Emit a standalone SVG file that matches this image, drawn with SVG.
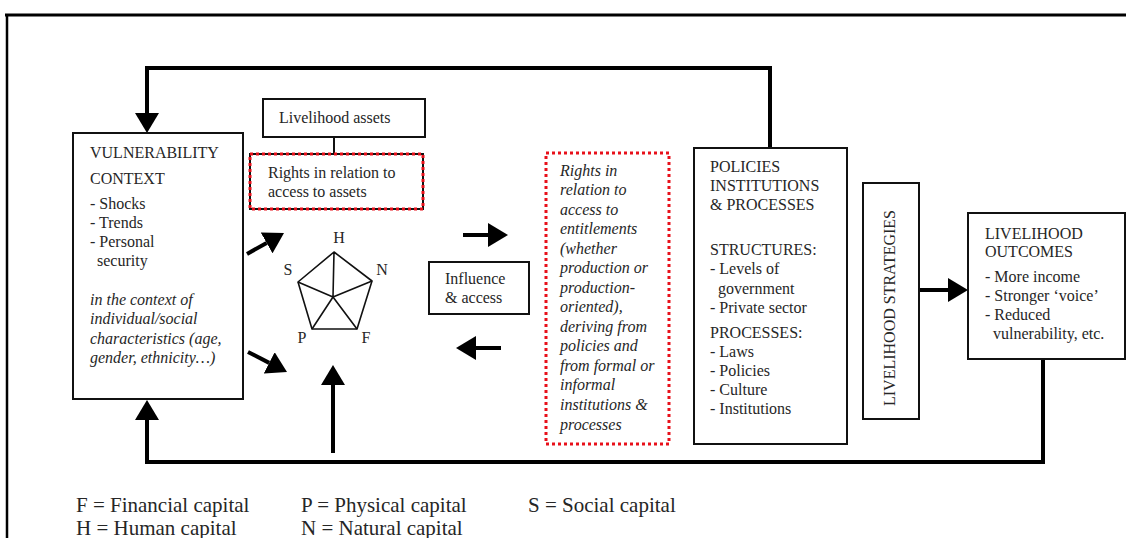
<svg xmlns="http://www.w3.org/2000/svg" width="1126" height="538" viewBox="0 0 1126 538">
  <style>
    text { font-family: 'Liberation Serif', 'Times New Roman', serif; font-size: 16px; fill: #262626; }
    .it { font-style: italic; }
    .leg { font-size: 21px; }
    .box { fill: #fff; stroke: #111; stroke-width: 2; }
    .red { fill: none; stroke: #e8101a; stroke-width: 3; stroke-dasharray: 3 3; }
    .link { fill: none; stroke: #000; stroke-width: 4; }
    .thin { fill: none; stroke: #111; stroke-width: 2; }
    .pent { fill: none; stroke: #111; stroke-width: 1.6; stroke-linejoin: round; }
  </style>
  <defs>
    <marker id="ah" markerUnits="userSpaceOnUse" markerWidth="20" markerHeight="24" viewBox="0 0 20 24" refX="0" refY="12" orient="auto">
      <path d="M0,0 L20,12 L0,24 z" fill="#000"/>
    </marker>
  </defs>

  <rect width="1126" height="538" fill="#fff"/>

  <!-- page frame -->
  <g id="frame">
    <line x1="5" y1="15" x2="1126" y2="15" stroke="#000" stroke-width="3"/>
    <line x1="7" y1="14" x2="7" y2="538" stroke="#000" stroke-width="2.5"/>
  </g>

  <!-- connectors -->
  <g id="connectors">
    <path class="link" d="M770,148 V68 H147 V113" marker-end="url(#ah)"/>
    <path class="link" d="M1043,359 V462 H147 V420" marker-end="url(#ah)"/>
    <line class="link" x1="333" y1="453" x2="333" y2="385" marker-end="url(#ah)"/>
    <line class="link" stroke-width="5" x1="247" y1="254" x2="266.6" y2="242.9" marker-end="url(#ah)"/>
    <line class="link" stroke-width="5" x1="248" y1="352" x2="269.2" y2="362.9" marker-end="url(#ah)"/>
    <line class="link" stroke-width="5" x1="463" y1="235" x2="488" y2="235" marker-end="url(#ah)"/>
    <line class="link" stroke-width="5" x1="501" y1="348" x2="476" y2="348" marker-end="url(#ah)"/>
    <line class="link" stroke-width="5" x1="919" y1="290" x2="948" y2="290" marker-end="url(#ah)"/>
    <line class="thin" x1="334" y1="137" x2="334" y2="154"/>
  </g>

  <!-- vulnerability context -->
  <g id="vulnerability">
    <rect class="box" x="73" y="133" width="170" height="266"/>
    <text x="90" y="158">VULNERABILITY</text>
    <text x="90" y="184">CONTEXT</text>
    <text x="90" y="209">- Shocks</text>
    <text x="90" y="228">- Trends</text>
    <text x="90" y="247">- Personal</text>
    <text x="97" y="266">security</text>
    <text class="it" x="90" y="305">in the context of</text>
    <text class="it" x="90" y="324">individual/social</text>
    <text class="it" x="90" y="344">characteristics (age,</text>
    <text class="it" x="90" y="363">gender, ethnicity…)</text>
  </g>

  <!-- livelihood assets header -->
  <g id="assets">
    <rect class="box" x="263" y="99" width="162" height="38"/>
    <text x="279" y="123">Livelihood assets</text>
  </g>

  <!-- rights to assets -->
  <g id="rights-assets">
    <rect class="box" x="250" y="154" width="173" height="55"/>
    <rect class="red" x="250" y="154" width="173" height="55"/>
    <text x="268" y="178">Rights in relation to</text>
    <text x="268" y="197">access to assets</text>
  </g>

  <!-- asset pentagon -->
  <g id="pentagon">
    <polygon class="pent" points="334,252 372,281 357,329 312,329 298,282"/>
    <path class="pent" d="M334,252 L333,297 M372,281 L333,297 M357,329 L333,297 M312,329 L333,297 M298,282 L333,297"/>
    <text x="339" y="243" text-anchor="middle">H</text>
    <text x="382" y="275" text-anchor="middle">N</text>
    <text x="366" y="343" text-anchor="middle">F</text>
    <text x="302" y="343" text-anchor="middle">P</text>
    <text x="288" y="275" text-anchor="middle">S</text>
  </g>

  <!-- influence and access -->
  <g id="influence">
    <rect class="box" x="429" y="262" width="100" height="52"/>
    <text x="445" y="284">Influence</text>
    <text x="445" y="303">&amp; access</text>
  </g>

  <!-- rights to entitlements -->
  <g id="rights-entitlements">
    <rect class="red" x="546" y="153" width="123" height="291"/>
    <text class="it" x="560" y="176">Rights in</text>
    <text class="it" x="560" y="195">relation to</text>
    <text class="it" x="560" y="215">access to</text>
    <text class="it" x="560" y="234">entitlements</text>
    <text class="it" x="560" y="254">(whether</text>
    <text class="it" x="560" y="273">production or</text>
    <text class="it" x="560" y="293">production-</text>
    <text class="it" x="560" y="312">oriented),</text>
    <text class="it" x="560" y="332">deriving from</text>
    <text class="it" x="560" y="351">policies and</text>
    <text class="it" x="560" y="371">from formal or</text>
    <text class="it" x="560" y="390">informal</text>
    <text class="it" x="560" y="410">institutions &amp;</text>
    <text class="it" x="560" y="430">processes</text>
  </g>

  <!-- policies, institutions and processes -->
  <g id="policies">
    <rect class="box" x="694" y="148" width="153" height="296"/>
    <text x="710" y="172">POLICIES</text>
    <text x="710" y="191">INSTITUTIONS</text>
    <text x="710" y="210">&amp; PROCESSES</text>
    <text x="710" y="255">STRUCTURES:</text>
    <text x="710" y="274">- Levels of</text>
    <text x="718" y="294">government</text>
    <text x="710" y="313">- Private sector</text>
    <text x="710" y="338">PROCESSES:</text>
    <text x="710" y="357">- Laws</text>
    <text x="710" y="376">- Policies</text>
    <text x="710" y="395">- Culture</text>
    <text x="710" y="414">- Institutions</text>
  </g>

  <!-- livelihood strategies -->
  <g id="strategies">
    <rect class="box" x="863" y="183" width="56" height="236"/>
    <text transform="translate(895,308) rotate(-90)" text-anchor="middle">LIVELIHOOD STRATEGIES</text>
  </g>

  <!-- livelihood outcomes -->
  <g id="outcomes">
    <rect class="box" x="968" y="213" width="157" height="146"/>
    <text x="985" y="239">LIVELIHOOD</text>
    <text x="985" y="257">OUTCOMES</text>
    <text x="985" y="282">- More income</text>
    <text x="985" y="301">- Stronger ‘voice’</text>
    <text x="985" y="320">- Reduced</text>
    <text x="993" y="339">vulnerability, etc.</text>
  </g>

  <!-- key -->
  <g id="legend">
    <text class="leg" x="76" y="512">F = Financial capital</text>
    <text class="leg" x="301" y="512">P = Physical capital</text>
    <text class="leg" x="528" y="512">S = Social capital</text>
    <text class="leg" x="76" y="535">H = Human capital</text>
    <text class="leg" x="301" y="535">N = Natural capital</text>
  </g>
</svg>
